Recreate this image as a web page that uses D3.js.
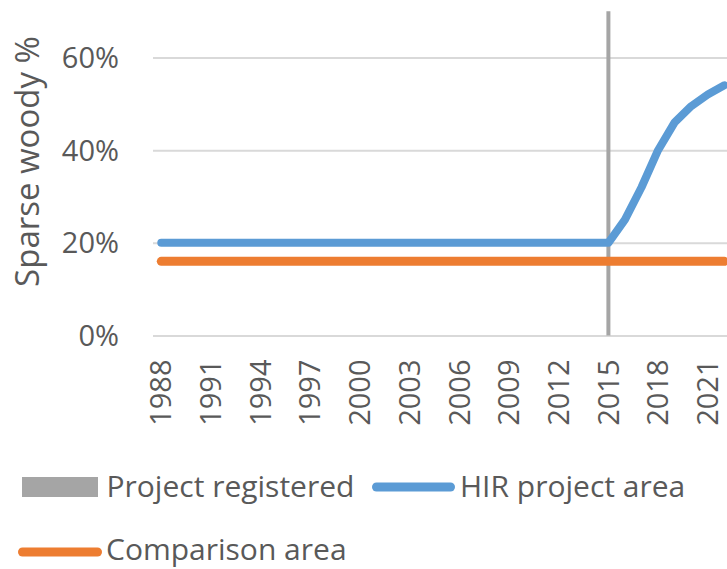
<!DOCTYPE html>
<html>
<head>
<meta charset="utf-8">
<script src="https://cdn.jsdelivr.net/npm/d3@7/dist/d3.min.js"></script>
<style>
  html, body { margin: 0; padding: 0; background: #fff; }
  svg { display: block; }
  text { font-family: "Open Sans", sans-serif; fill: #595959; }
</style>
</head>
<body>
<svg id="chart" width="727" height="569"></svg>
<script>
// ---- data ----
const years = d3.range(1988, 2023).map(String);
const tickYears = ["1988","1991","1994","1997","2000","2003","2006","2009","2012","2015","2018","2021"];
const yTicks = [0, 0.2, 0.4, 0.6];
const hirValues = [
  0.20,0.20,0.20,0.20,0.20,0.20,0.20,0.20,0.20,0.20,
  0.20,0.20,0.20,0.20,0.20,0.20,0.20,0.20,0.20,0.20,
  0.20,0.20,0.20,0.20,0.20,0.20,0.20,0.20,
  0.25,0.32,0.40,0.46,0.495,0.52,0.54
];
const comparisonValues = years.map(() => 0.16);
const projectRegisteredYear = "2015";
const legendLabels = ["Project registered", "HIR project area", "Comparison area"];

// ---- layout ----
const svg = d3.select("#chart");
const plotLeft = 153, plotRight = 732.6, plotTop = 11.2, plotBottom = 335.5;

const x = d3.scaleBand().domain(years).range([plotLeft, plotRight]).padding(0);
const y = d3.scaleLinear().domain([0, 0.7]).range([plotBottom, plotTop]);
const cx = d => x(d) + x.bandwidth() / 2;

// gridlines
const grid = svg.append("g").attr("transform", `translate(${plotLeft},0)`)
  .call(d3.axisLeft(y).tickValues(yTicks).tickSize(-(plotRight - plotLeft)).tickFormat(""));
grid.select(".domain").remove();
grid.selectAll(".tick line").attr("stroke", "#d9d9d9").attr("stroke-width", 2);

// y labels
const yAx = svg.append("g").attr("transform", `translate(119,0)`)
  .call(d3.axisLeft(y).tickValues(yTicks).tickSize(0).tickPadding(0).tickFormat(d3.format(".0%")));
yAx.select(".domain").remove();
yAx.selectAll("text").attr("font-size", 29).attr("font-family", "Open Sans, sans-serif")
  .attr("fill", "#595959").attr("x", 0).attr("dy", "0.35em");

// x labels
const xAx = svg.append("g").attr("transform", `translate(0,${plotBottom})`)
  .call(d3.axisBottom(x).tickValues(tickYears).tickSize(0));
xAx.select(".domain").remove();
xAx.selectAll("text")
  .attr("font-size", 29).attr("font-family", "Open Sans, sans-serif").attr("fill", "#595959")
  .attr("transform", "rotate(-90)")
  .attr("text-anchor", "end")
  .attr("x", -24).attr("y", 0).attr("dy", "0.35em");

// y title
svg.append("text")
  .attr("transform", `translate(39,${161.5}) rotate(-90)`)
  .attr("text-anchor", "middle")
  .attr("font-size", 33)
  .text("Sparse woody %");

// project registered vertical line
svg.append("line")
  .attr("x1", cx(projectRegisteredYear)).attr("x2", cx(projectRegisteredYear))
  .attr("y1", y(0.7)).attr("y2", y(0))
  .attr("stroke", "#a5a5a5").attr("stroke-width", 4);

// lines
const line = d3.line().x((d, i) => cx(years[i])).y(d => y(d));
svg.append("path").datum(comparisonValues)
  .attr("d", line).attr("fill", "none").attr("stroke", "#ed7d31")
  .attr("stroke-width", 9).attr("stroke-linecap", "round").attr("stroke-linejoin", "round");
svg.append("path").datum(hirValues)
  .attr("d", line).attr("fill", "none").attr("stroke", "#5b9bd5")
  .attr("stroke-width", 8).attr("stroke-linecap", "round").attr("stroke-linejoin", "round");

// legend
const lg = svg.append("g");
lg.append("rect").attr("x", 22).attr("y", 477).attr("width", 76).attr("height", 20).attr("fill", "#a5a5a5");
lg.append("text").attr("x", 106.5).attr("y", 497).attr("font-size", 30).text(legendLabels[0]);

lg.append("line").attr("x1", 376.5).attr("x2", 450.5).attr("y1", 487).attr("y2", 487)
  .attr("stroke", "#5b9bd5").attr("stroke-width", 9).attr("stroke-linecap", "round");
lg.append("text").attr("x", 460).attr("y", 497).attr("font-size", 30).text(legendLabels[1]);

lg.append("line").attr("x1", 22.5).attr("x2", 97.5).attr("y1", 552).attr("y2", 552)
  .attr("stroke", "#ed7d31").attr("stroke-width", 9).attr("stroke-linecap", "round");
lg.append("text").attr("x", 106).attr("y", 560).attr("font-size", 30).text(legendLabels[2]);
</script>
</body>
</html>
